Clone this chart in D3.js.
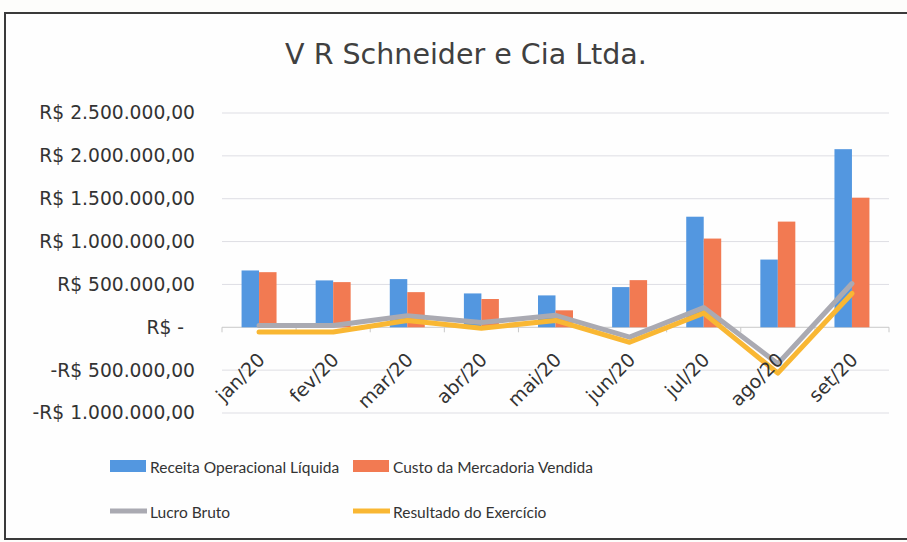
<!DOCTYPE html>
<html>
<head>
<meta charset="utf-8">
<script src="https://cdn.jsdelivr.net/npm/d3@7"></script>
<style>
  html, body { margin: 0; padding: 0; background: #fdfdfb; }
  svg { display: block; font-family: "DejaVu Sans", sans-serif; }
</style>
</head>
<body>
<div id="chart"></div>
<script>
// dados
const meses = ["jan/20", "fev/20", "mar/20", "abr/20", "mai/20", "jun/20", "jul/20", "ago/20", "set/20"];
const receita = [663000, 547000, 562000, 395000, 372000, 469000, 1290000, 790000, 2078000];
const custo = [643000, 527000, 410000, 330000, 198000, 550000, 1035000, 1233000, 1512000];
const lucroBruto = [20000, 20000, 135000, 55000, 140000, -115000, 230000, -425000, 510000];
const resultado = [-55000, -55000, 80000, -10000, 80000, -175000, 165000, -535000, 395000];
const yTicks = [-1000000, -500000, 0, 500000, 1000000, 1500000, 2000000, 2500000];

const barSeries = [
  { key: "Receita Operacional Líquida", values: receita, color: "#5397e0" },
  { key: "Custo da Mercadoria Vendida", values: custo, color: "#f27a52" }
];
const lineSeries = [
  { key: "Lucro Bruto", values: lucroBruto, color: "#aaaab2" },
  { key: "Resultado do Exercício", values: resultado, color: "#f9b733" }
];

const W = 907, H = 542;
const svg = d3.select("#chart").append("svg").attr("width", W).attr("height", H);

// moldura
svg.append("rect")
  .attr("x", 5).attr("y", 13).attr("width", W + 10).attr("height", 526)
  .attr("fill", "#fefefe").attr("stroke", "#3a3a3a").attr("stroke-width", 2);

// título
svg.append("text")
  .attr("x", 466).attr("y", 64)
  .attr("text-anchor", "middle")
  .attr("font-size", 28.5)
  .attr("fill", "#404040")
  .text("V R Schneider e Cia Ltda.");

const x = d3.scaleBand().domain(meses).range([222, 889]).padding(0);
const bw = x.bandwidth();
const x1 = d3.scaleBand().domain(barSeries.map(d => d.key)).range([bw * 0.264, bw * 0.736]).padding(0);
const y = d3.scaleLinear().domain([-1000000, 2500000]).range([413, 113]);

const br = d3.formatLocale({
  decimal: ",", thousands: ".", grouping: [3], currency: ["R$ ", ""], minus: "-"
});
const fmt = v => v === 0 ? "R$ -" : br.format("$,.2f")(v);

// grade
svg.append("g")
  .selectAll("line")
  .data(yTicks)
  .join("line")
  .attr("x1", 222).attr("x2", 889)
  .attr("y1", d => y(d)).attr("y2", d => y(d))
  .attr("stroke", d => d === 0 ? "#c8c8c8" : "#dedee4")
  .attr("stroke-width", 1);

// eixo y
const yAxis = svg.append("g")
  .attr("transform", "translate(195,0)")
  .call(d3.axisLeft(y).tickValues(yTicks).tickFormat(fmt).tickSize(0).tickPadding(0));
yAxis.select(".domain").remove();
yAxis.selectAll("text")
  .attr("font-size", 18.7)
  .attr("fill", "#333")
  .attr("font-family", "DejaVu Sans, sans-serif")
  .attr("dx", d => d === 0 ? -11 : 0);

// marcas do eixo x
svg.append("g")
  .selectAll("line")
  .data(meses.concat(["fim"]))
  .join("line")
  .attr("x1", (d, i) => 222 + i * bw).attr("x2", (d, i) => 222 + i * bw)
  .attr("y1", y(0)).attr("y2", y(0) + 5)
  .attr("stroke", "#c8c8c8");

// barras
const groups = svg.append("g")
  .selectAll("g")
  .data(barSeries)
  .join("g")
  .attr("fill", d => d.color);
groups.selectAll("rect")
  .data(s => s.values.map((v, i) => ({ key: s.key, mes: meses[i], v })))
  .join("rect")
  .attr("x", d => x(d.mes) + x1(d.key))
  .attr("width", x1.bandwidth())
  .attr("y", d => y(Math.max(0, d.v)))
  .attr("height", d => Math.abs(y(d.v) - y(0)));

// linhas
const line = d3.line()
  .x((v, i) => x(meses[i]) + bw / 2)
  .y(v => y(v));
svg.append("g")
  .selectAll("path")
  .data(lineSeries)
  .join("path")
  .attr("d", d => line(d.values))
  .attr("fill", "none")
  .attr("stroke", d => d.color)
  .attr("stroke-width", 5)
  .attr("stroke-linejoin", "round")
  .attr("stroke-linecap", "round");

// rótulos do eixo x
svg.append("g")
  .selectAll("text")
  .data(meses)
  .join("text")
  .attr("transform", d => `translate(${x(d) + bw / 2 + 7},${361}) rotate(-45)`)
  .attr("text-anchor", "end")
  .attr("font-size", 19)
  .attr("fill", "#333")
  .text(d => d);

// legenda
const legend = svg.append("g").attr("font-size", 15.5).attr("font-family", "Lato, sans-serif");
const legItems = [
  { s: barSeries[0], type: "bar", x: 110, y: 466 },
  { s: barSeries[1], type: "bar", x: 353, y: 466 },
  { s: lineSeries[0], type: "line", x: 110, y: 511 },
  { s: lineSeries[1], type: "line", x: 353, y: 511 }
];
legItems.forEach(it => {
  if (it.type === "bar") {
    legend.append("rect")
      .attr("x", it.x).attr("y", it.y - 6).attr("width", 36).attr("height", 12)
      .attr("fill", it.s.color);
  } else {
    legend.append("line")
      .attr("x1", it.x).attr("x2", it.x + 37)
      .attr("y1", it.y).attr("y2", it.y)
      .attr("stroke", it.s.color).attr("stroke-width", 5);
  }
  legend.append("text")
    .attr("x", it.x + 40).attr("y", it.y + 7)
    .attr("fill", "#333")
    .text(it.s.key);
});
</script>
</body>
</html>
